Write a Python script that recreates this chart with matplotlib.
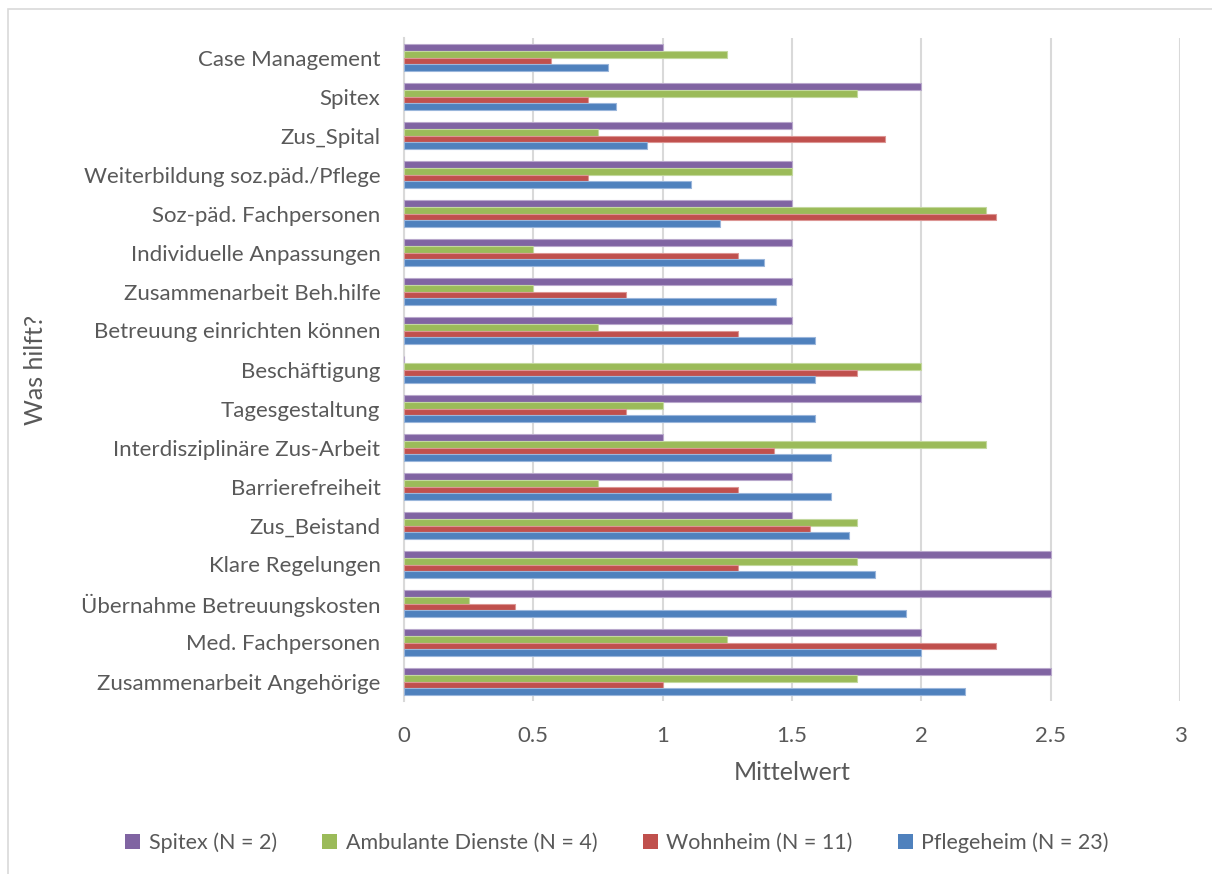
import matplotlib
matplotlib.use('Agg')
import matplotlib.pyplot as plt
import numpy as np
from matplotlib.patches import Patch, Rectangle

categories = ['Case Management', 'Spitex', 'Zus_Spital', 'Weiterbildung soz.päd./Pflege',
              'Soz-päd. Fachpersonen', 'Individuelle Anpassungen', 'Zusammenarbeit Beh.hilfe',
              'Betreuung einrichten können', 'Beschäftigung', 'Tagesgestaltung',
              'Interdisziplinäre Zus-Arbeit', 'Barrierefreiheit', 'Zus_Beistand',
              'Klare Regelungen', 'Übernahme Betreuungskosten', 'Med. Fachpersonen',
              'Zusammenarbeit Angehörige']
spitex = [1.0, 2.0, 1.5, 1.5, 1.5, 1.5, 1.5, 1.5, 0.0, 2.0, 1.0, 1.5, 1.5, 2.5, 2.5, 2.0, 2.5]
ambulant = [1.25, 1.75, 0.75, 1.5, 2.25, 0.5, 0.5, 0.75, 2.0, 1.0, 2.25, 0.75, 1.75, 1.75, 0.25, 1.25, 1.75]
wohnheim = [0.57, 0.71, 1.86, 0.71, 2.29, 1.29, 0.86, 1.29, 1.75, 0.86, 1.43, 1.29, 1.57, 1.29, 0.43, 2.29, 1.0]
pflegeheim = [0.79, 0.82, 0.94, 1.11, 1.22, 1.39, 1.44, 1.59, 1.59, 1.59, 1.65, 1.65, 1.72, 1.82, 1.94, 2.0, 2.17]
series_labels = ['Spitex (N = 2)', 'Ambulante Dienste (N = 4)', 'Wohnheim (N = 11)', 'Pflegeheim (N = 23)']
xticks = [0, 0.5, 1, 1.5, 2, 2.5, 3]
xtick_labels = ['0', '0.5', '1', '1.5', '2', '2.5', '3']

colors = ['#8064A2', '#9BBB59', '#C0504D', '#4F81BD']
edges = ['#B9A8CC', '#C3D89E', '#DC9694', '#9AB6DB']
text_color = '#595959'

plt.rcParams['font.family'] = ['Lato', 'DejaVu Sans']

fig = plt.figure(figsize=(12.12, 8.74), dpi=100)
ax = fig.add_axes([404 / 1212, 1 - 701 / 874, (1180 - 404) / 1212, (701 - 38) / 874])

# outer chart border
fig.patches.append(Rectangle((8 / 1212, -0.1), 1.2, 1 - 9 / 874 + 0.1,
                             transform=fig.transFigure, fill=False,
                             edgecolor='#D9D9D9', lw=1.2, clip_on=False))

y = np.arange(len(categories))
h = 0.171
series = [spitex, ambulant, wohnheim, pflegeheim]
offsets = [-1.5 * h, -0.5 * h, 0.5 * h, 1.5 * h]
for vals, off, c, ec, lab in zip(series, offsets, colors, edges, series_labels):
    ax.barh(y + off, vals, height=h, color=c, edgecolor=ec, linewidth=0.8, label=lab, zorder=3)

ax.set_ylim(len(categories) - 0.5, -0.5)
ax.set_xlim(0, 3)
ax.set_yticks(y)
ax.set_yticklabels(categories)
ax.set_xticks(xticks)
ax.set_xticklabels(xtick_labels)

ax.xaxis.grid(True, color='#D9D9D9', lw=1.5)
ax.set_axisbelow(True)
for s in ['top', 'right', 'bottom']:
    ax.spines[s].set_visible(False)
ax.spines['left'].set_color('#D9D9D9')
ax.spines['left'].set_linewidth(1.5)

ax.tick_params(axis='y', length=0, pad=17, labelsize=16, labelcolor=text_color)
ax.tick_params(axis='x', length=0, pad=18, labelsize=16, labelcolor=text_color)

ax.set_xlabel('Mittelwert', fontsize=18, color=text_color, labelpad=11)
ax.set_ylabel('Was hilft?', fontsize=18, color=text_color)
ax.yaxis.set_label_coords((47 - 404) / (1180 - 404), 0.5)

handles = [Patch(facecolor=c, edgecolor='none') for c in colors]
fig.legend(handles, series_labels, loc='center', bbox_to_anchor=(617 / 1212, 1 - 843 / 874),
           ncol=4, frameon=False, fontsize=15.5, labelcolor=text_color,
           handlelength=0.7, handleheight=0.7, handletextpad=0.4, columnspacing=2.1)

fig.savefig('out.png', dpi=100, facecolor='white')
